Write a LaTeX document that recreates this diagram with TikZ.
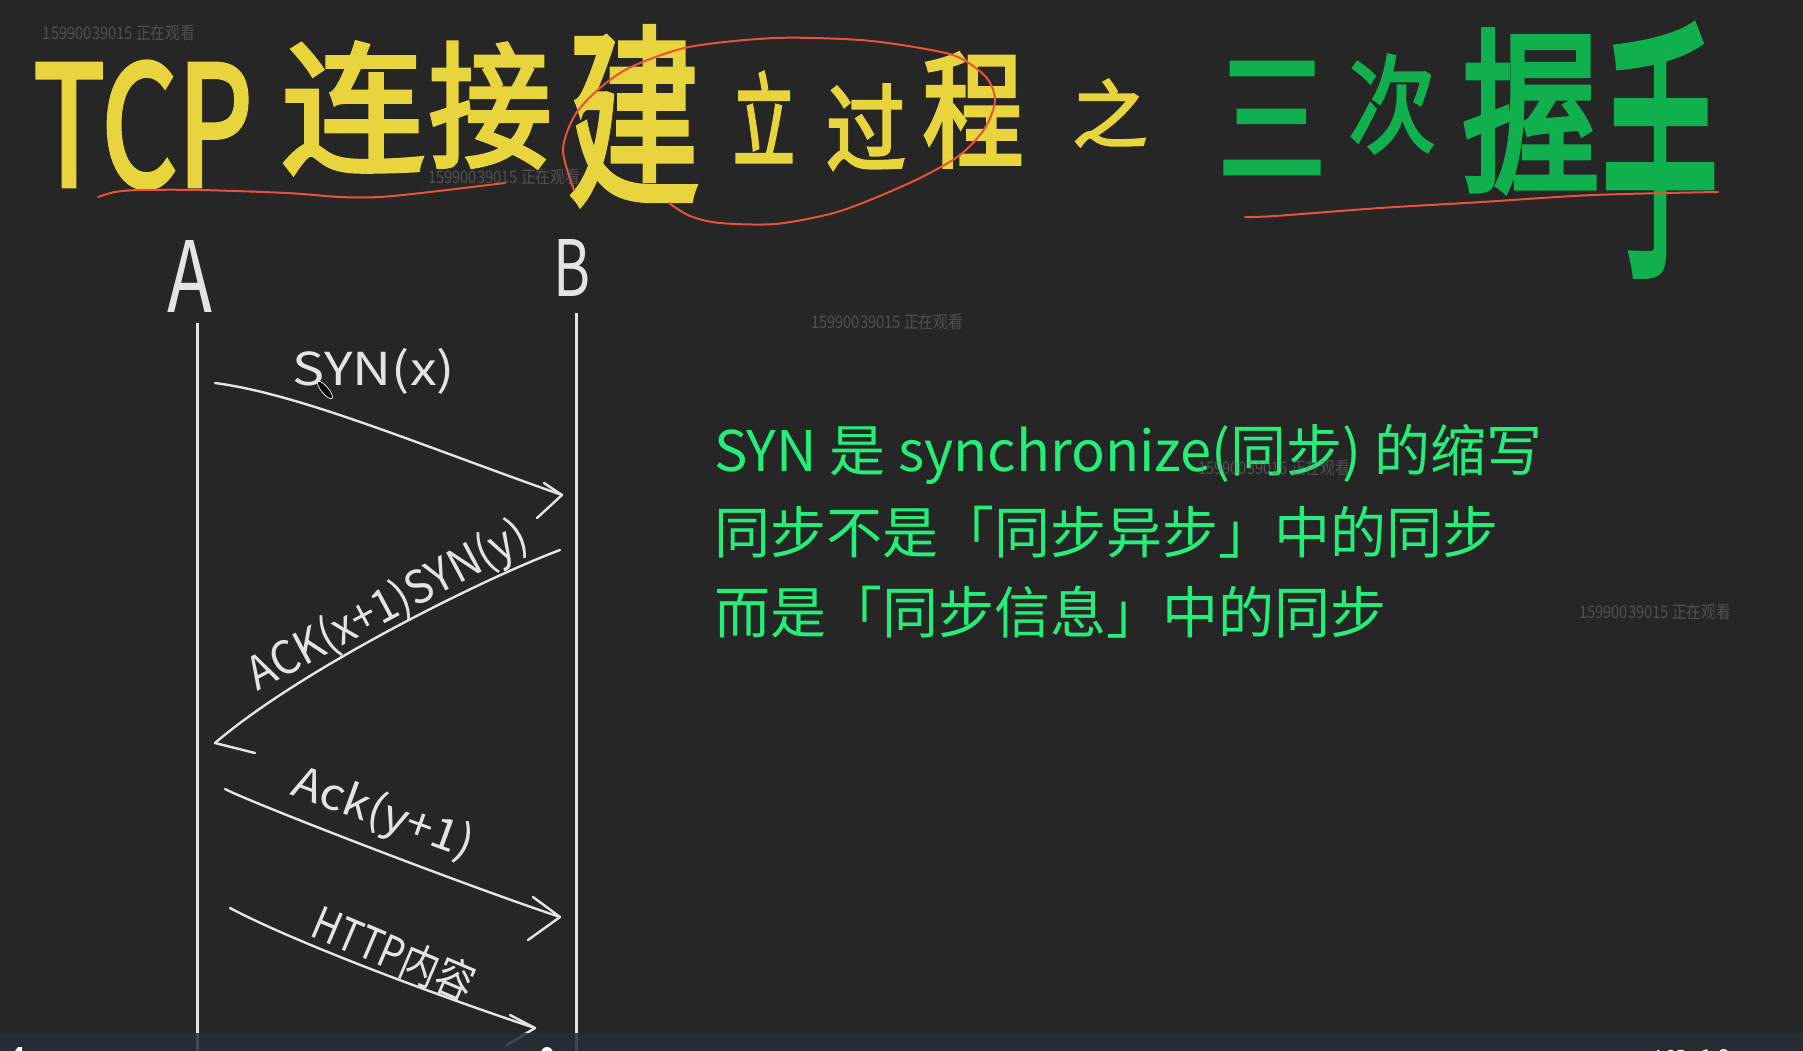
\documentclass[tikz,border=0pt]{standalone}
\usepackage{fontspec}
\usepackage{graphicx}
\newfontfamily\cjk{Noto Sans CJK SC}
\newfontfamily\cjkb[FakeBold=3]{Noto Sans CJK SC}
\definecolor{bgc}{RGB}{38,38,38}
\definecolor{ylw}{RGB}{232,212,60}
\definecolor{grn}{RGB}{16,176,78}
\definecolor{redl}{RGB}{232,82,58}
\definecolor{wht}{RGB}{228,228,228}
\definecolor{mint}{RGB}{36,238,120}
\definecolor{barc}{RGB}{39,45,55}
\definecolor{wmc}{RGB}{115,115,115}
\tikzset{
  ttl/.style={inner sep=0, text=ylw},
  ttg/.style={inner sep=0, text=grn},
  lbl/.style={inner sep=0, text=wht},
  ln/.style={draw=wht, line width=2.4pt, line cap=round, line join=round},
  life/.style={draw=wht, line width=3pt},
  redln/.style={draw=redl, line width=2pt, line cap=round},
  desc/.style={anchor=base west, inner sep=0, text=mint, font=\cjk\fontsize{56}{60}\selectfont},
  wmark/.style={inner sep=0, text=wmc, opacity=0.55},
}
\begin{document}
\begin{tikzpicture}[x=1pt,y=-1pt]
\useasboundingbox (0,0) rectangle (1803,1050);
\clip (0,0) rectangle (1803,1050);
\fill[bgc] (-2,-2) rectangle (1805,1052);

% ---------- title ----------
\node[ttl] (tcp) at (143,125) {\resizebox{219pt}{124pt}{\cjkb TCP}};
\node[ttl] (c1) at (353,108) {\resizebox*{144pt}{131pt}{\cjkb 连}};
\node[ttl] (c2) at (490,105) {\resizebox*{123pt}{125pt}{\cjkb 接}};
\node[ttl] (c3) at (634,116) {\resizebox*{132pt}{178pt}{\cjkb 建}};
\node[ttl] (c4) at (764,117) {\resizebox*{62pt}{90pt}{\cjkb 立}};
\node[ttl] (c5) at (866,127) {\resizebox*{80pt}{85pt}{\cjkb 过}};
\node[ttl] (c6) at (973,110) {\resizebox*{101pt}{114pt}{\cjkb 程}};
\node[ttl] (c7) at (1110,113) {\resizebox*{75pt}{67pt}{\cjkb 之}};

\node[ttg] (g1) at (1272,118) {\resizebox*{108pt}{110pt}{\cjkb 三}};
\node[ttg] (g2) at (1392,104) {\resizebox*{87pt}{98pt}{\cjkb 次}};
\node[ttg] (g3) at (1531,111) {\resizebox*{138pt}{162pt}{\cjkb 握}};
\node[ttg] (g4) at (1660,150) {\resizebox*{116pt}{250pt}{\cjkb 手}};

% red marks
\draw[redln] plot[smooth] coordinates {(98,197) (115,192) (140,190) (200,190) (287,193) (340,197) (380,197) (430,192) (505,183)};
\draw[redln] plot[smooth] coordinates {(574,190) (563,150) (575,115) (600,88) (631,67) (689,47) (775,38) (860,40) (920,48) (958,57) (986,77) (995,100) (985,128) (960,155) (920,178) (870,200) (830,214) (775,224) (720,223) (690,216) (669,203)};
\draw[redln] plot[smooth] coordinates {(1245,217) (1275,216) (1380,208) (1482,202) (1593,195) (1718,192)};

% ---------- sequence diagram ----------
\node[lbl] (A) at (190,276) {\resizebox{45pt}{72pt}{\cjk A}};
\node[lbl] (B) at (572,268) {\resizebox{37pt}{57pt}{\cjk B}};
\coordinate (Atop) at (197,323);
\coordinate (Abot) at (197,1060);
\coordinate (Btop) at (576,313);
\coordinate (Bbot) at (576,1060);
\draw[life] (Atop) -- (Abot);
\draw[life] (Btop) -- (Bbot);

% SYN(x)
\coordinate (s1) at (215,383);
\coordinate (e1) at (562,495);
\draw[ln] (s1) .. controls (300,394) and (420,445) .. (e1);
\draw[ln] (e1) ++(-18,-12) -- (e1) -- ++(-25,23);
\node[lbl] (l1) at (374,371) {\resizebox*{162pt}{46pt}{\cjk SYN(x)}};

% ACK(x+1)SYN(y)
\coordinate (s2) at (560,550);
\coordinate (e2) at (215,743);
\draw[ln] (s2) .. controls (480,580) and (300,670) .. (e2);
\draw[ln] (e2) -- ++(40,10);
\node[lbl, rotate=28] (l2) at (388,607) {\resizebox*{310pt}{48pt}{\cjk ACK(x+1)SYN(y)}};

% Ack(y+1)
\coordinate (s3) at (225,789);
\coordinate (e3) at (560,917);
\draw[ln] (s3) .. controls (245,800) and (450,880) .. (e3);
\draw[ln] (e3) ++(-27,-20) -- (e3) -- ++(-32,23);
\node[lbl, rotate=-20] (l3) at (383,815) {\resizebox*{190pt}{46pt}{\cjk Ack(y+1)}};

% HTTP内容
\coordinate (s4) at (230,908);
\coordinate (e4) at (535,1028);
\draw[ln] (s4) .. controls (300,945) and (450,1000) .. (e4);
\draw[ln] (e4) ++(-25,-13) -- (e4) -- ++(-28,17);
\node[lbl, rotate=-23] (l4) at (394,953) {\resizebox*{172pt}{42pt}{\cjk HTTP内容}};

% pen cursor
\fill[black, draw=wht, line width=0.8pt, rotate around={-50:(325,390)}] (325,390) ellipse (11 and 3.5);

% ---------- description ----------
\node[desc] (d1) at (714,471) {SYN 是 synchronize(同步) 的缩写};
\node[desc] (d2) at (714,553) {同步不是「同步异步」中的同步};
\node[desc] (d3) at (714,633) {而是「同步信息」中的同步};

% ---------- watermarks ----------
\node[wmark] (w1) at (119,33) {\resizebox*{152pt}{16pt}{\cjk 15990039015 正在观看}};
\node[wmark] (w2) at (504,177) {\resizebox*{152pt}{16pt}{\cjk 15990039015 正在观看}};
\node[wmark] (w3) at (887,322) {\resizebox*{152pt}{16pt}{\cjk 15990039015 正在观看}};
\node[wmark] (w4) at (1274,468) {\resizebox*{152pt}{16pt}{\cjk 15990039015 正在观看}};
\node[wmark] (w5) at (1655,612) {\resizebox*{152pt}{16pt}{\cjk 15990039015 正在观看}};

% ---------- player bar ----------
\fill[barc, opacity=0.85] (-2,1033) rectangle (1805,1052);
\fill[white] (547,1053) circle (6);
\fill[white] (10,1058) -- (18,1047) -- (22,1047) -- (22,1058) -- cycle;
\node[anchor=base west, inner sep=0, text=white, font=\cjk\fontsize{17}{20}\selectfont] (t1) at (1652,1062) {4:25};
\node[anchor=base west, inner sep=0, text=white, font=\cjk\fontsize{22}{24}\selectfont] (t2) at (1700,1065) {1.2x};
\end{tikzpicture}
\end{document}
